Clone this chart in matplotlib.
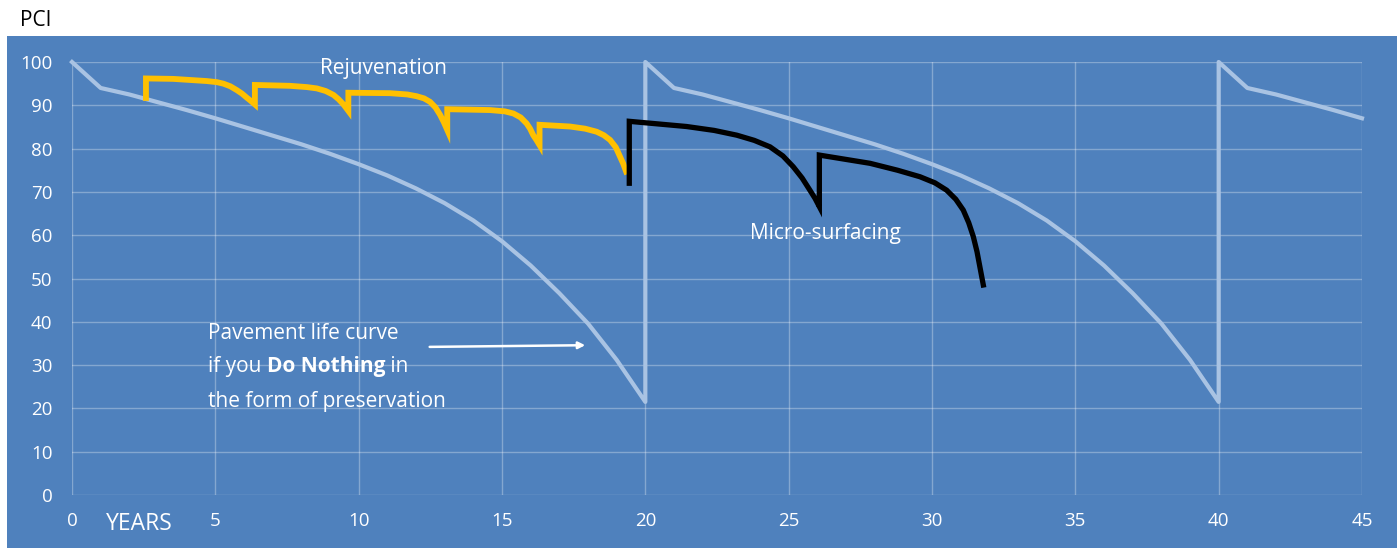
import matplotlib.pyplot as plt

# Do Nothing curve (light blue), three life cycles with reconstruction at 20 and 40
do_nothing_years = [0, 1, 2, 3, 4, 5, 6, 7, 8, 9, 10, 11, 12, 13, 14, 15, 16, 17, 18, 19, 20,
                    20, 21, 22, 23, 24, 25, 26, 27, 28, 29, 30, 31, 32, 33, 34, 35, 36, 37, 38, 39, 40,
                    40, 41, 42, 43, 44, 45]
do_nothing_pci = [100, 94, 92.5, 90.7, 88.9, 87, 85, 83, 81, 78.8, 76.4, 73.8, 70.8, 67.4, 63.4, 58.6, 53, 46.6, 39.6, 31.2, 21.5,
                  100, 94, 92.5, 90.7, 88.9, 87, 85, 83, 81, 78.8, 76.4, 73.8, 70.8, 67.4, 63.4, 58.6, 53, 46.6, 39.6, 31.2, 21.5,
                  100, 94, 92.5, 90.7, 88.9, 87]

# Rejuvenation treatments (yellow)
rejuv_years = [2.58, 2.58, 3.53, 4.70, 5.05, 5.28, 5.52, 5.75, 5.93, 6.09, 6.24, 6.38,
               6.38, 7.60, 8.20, 8.54, 8.85, 9.12, 9.30, 9.47, 9.64,
               9.64, 11.09, 11.70, 12.02, 12.28, 12.49, 12.68, 12.84, 12.97, 13.09,
               13.09, 14.58, 15.10, 15.40, 15.65, 15.86, 15.98, 16.09, 16.20, 16.31,
               16.31, 17.37, 17.90, 18.30, 18.55, 18.77, 18.97, 19.12, 19.23, 19.33]
rejuv_pci = [91.7, 96.2, 96.1, 95.6, 95.35, 95.0, 94.4, 93.5, 92.7, 91.8, 91.0, 90.2,
             94.7, 94.5, 94.2, 93.9, 93.3, 92.4, 91.4, 90.2, 88.7,
             92.9, 92.8, 92.5, 92.1, 91.6, 90.8, 89.5, 87.8, 86.1, 84.3,
             89.1, 88.9, 88.6, 88.1, 87.2, 85.8, 84.6, 83.1, 82.0, 80.8,
             85.5, 85.1, 84.6, 83.9, 83.1, 82.0, 80.3, 78.1, 76.5, 74.7]

# Micro-surfacing treatments (black)
micro_years = [19.44, 19.44, 21.44, 22.40, 23.19, 23.80, 24.35, 24.80, 25.16, 25.47, 25.74, 25.92, 26.07,
               26.07, 27.84, 28.80, 29.58, 30.10, 30.51, 30.83, 31.09, 31.28, 31.44, 31.57, 31.67, 31.79]
micro_pci = [72.0, 86.3, 85.1, 84.2, 83.1, 81.9, 80.4, 78.3, 75.8, 73.2, 70.4, 68.5, 66.6,
             78.5, 76.6, 75.0, 73.5, 72.1, 70.4, 68.3, 65.8, 62.9, 59.7, 56.2, 52.7, 48.5]

x_ticks = [0, 5, 10, 15, 20, 25, 30, 35, 40, 45]
y_ticks = [0, 10, 20, 30, 40, 50, 60, 70, 80, 90, 100]

blue = '#4F81BD'
plt.rcParams['font.family'] = ['Open Sans', 'DejaVu Sans']

fig = plt.figure(figsize=(14, 5.48), dpi=100)
fig.patch.set_facecolor('white')

# blue panel behind the plot
bg = fig.add_axes([7 / 1400, 0, 1390 / 1400, 1 - 36 / 548], zorder=-1)
bg.set_facecolor(blue)
bg.set_xticks([])
bg.set_yticks([])
for s in bg.spines.values():
    s.set_visible(False)

ax = fig.add_axes([72 / 1400, 1 - 495 / 548, 1290 / 1400, 433 / 548])
ax.set_facecolor('none')
ax.set_xlim(0, 45)
ax.set_ylim(0, 100)
ax.set_xticks(x_ticks)
ax.set_yticks(y_ticks)
for s in ax.spines.values():
    s.set_visible(False)
ax.grid(True, color='white', alpha=0.3, linewidth=1)
ax.tick_params(length=0, colors='white', labelsize=13.5)
ax.tick_params(axis='y', pad=14)
ax.tick_params(axis='x', pad=12)
ax.set_axisbelow(True)

ax.plot(do_nothing_years, do_nothing_pci, color='#A9C3E3', linewidth=3, clip_on=False)
ax.plot(rejuv_years, rejuv_pci, color='#FFC000', linewidth=4.2, solid_joinstyle='miter')
ax.plot(micro_years, micro_pci, color='black', linewidth=3.8, solid_joinstyle='miter')

fs = 15
ax.text(10.85, 98.5, 'Rejuvenation', color='white', fontsize=fs, ha='center', va='center')
ax.text(26.3, 60.3, 'Micro-surfacing', color='white', fontsize=fs, ha='center', va='center')

ax.text(4.74, 37.4, 'Pavement life curve', color='white', fontsize=fs, va='center')
t = ax.text(4.74, 29.6, 'if you ', color='white', fontsize=fs, va='center')
t2 = ax.annotate('Do Nothing', xy=(1, 0.5), xycoords=t, xytext=(0, 0), textcoords='offset points',
                 color='white', fontsize=fs, fontweight='bold', va='center', ha='left')
ax.annotate(' in', xy=(1, 0.5), xycoords=t2, xytext=(0, 0), textcoords='offset points',
            color='white', fontsize=fs, va='center', ha='left')
ax.text(4.74, 21.7, 'the form of preservation', color='white', fontsize=fs, va='center')

ax.annotate('', xy=(18.0, 34.6), xytext=(12.38, 34.2),
            arrowprops=dict(arrowstyle='-|>', color='white', lw=1.8, mutation_scale=10))

fig.text(20 / 1400, 1 - 20 / 548, 'PCI', fontsize=15, color='black', va='center')
ax.text(1.19, -6.6, 'YEARS', color='white', fontsize=16.5, va='center', ha='left', clip_on=False)

fig.savefig('out.png', dpi=100)
